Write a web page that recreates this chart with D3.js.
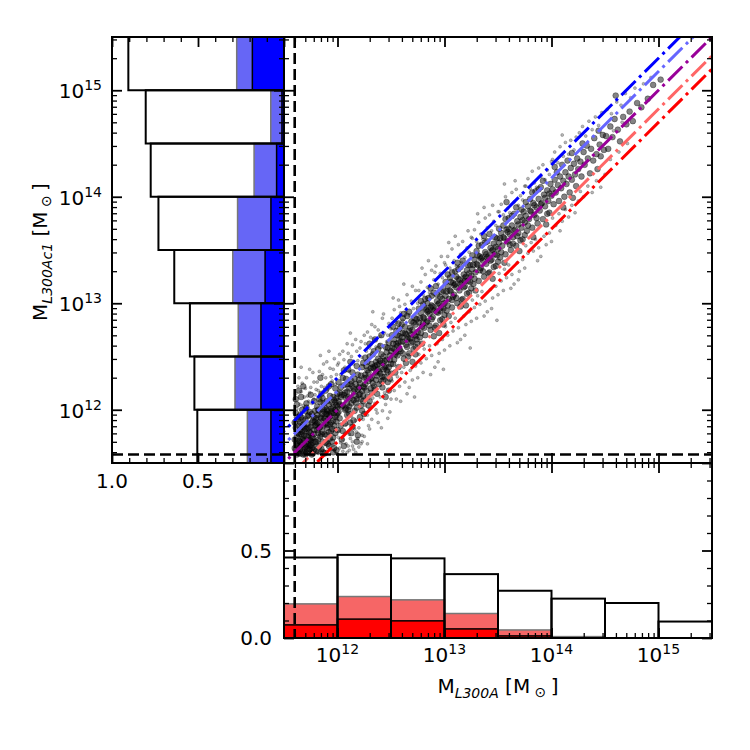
<!DOCTYPE html>
<html><head><meta charset="utf-8">
<script src="https://cdn.jsdelivr.net/npm/d3@7"></script>
<style>body{margin:0;background:#fff} text{font-family:"DejaVu Sans",sans-serif;fill:#000}</style>
</head><body><svg id="c" width="750" height="750"></svg>
<script>
// ---------------- DATA ----------------
const massBinEdgesLog = [11.5, 12, 12.5, 13, 13.5, 14, 14.5, 15, 15.5];
// bottom histogram (fractions per M_L300A bin)
const bottomTotal = [0.46, 0.475, 0.455, 0.365, 0.27, 0.225, 0.20, 0.094];
const bottomLight = [0.195, 0.237, 0.218, 0.14, 0.046, 0.008, 0, 0];
const bottomDark  = [0.075, 0.108, 0.098, 0.052, 0.012, 0, 0, 0];
// left histogram (fractions per M_L300Ac1 bin), low to high mass
const leftTotal = [0.504, 0.521, 0.547, 0.638, 0.73, 0.775, 0.804, 0.905];
const leftLight = [0.213, 0.285, 0.266, 0.298, 0.27, 0.174, 0.077, 0.275];
const leftDark  = [0.076, 0.134, 0.134, 0.11, 0.076, 0.043, 0.012, 0.184];
// reference lines: log10 offsets from 1:1 relation
const lineOffsets = [0.301, 0.176, 0, -0.176, -0.301];
const lineColors = ["#0000ff", "#6666ff", "#990099", "#ff6666", "#ff0000"];
// mass thresholds (log10)
const xThreshLog = 11.6;
const yThreshLog = 11.58;
// tick labels
const logTickExps = [12, 13, 14, 15];
const leftFracTicks = [1.0, 0.5];
const leftFracLabels = ["1.0", "0.5"];
const bottomFracTicks = [0.0, 0.5];
const bottomFracLabels = ["0.0", "0.5"];
// scatter points [log10 M_L300A, log10 M_L300Ac1] - core of the cloud
const scatterPoints = [
[11.61,11.62],[11.62,11.75],[11.60,11.88],[11.63,11.69],[11.61,11.97],[11.64,11.59],[11.62,12.05],[11.65,11.81],[11.63,11.66],[11.60,11.72],
[11.66,11.93],[11.64,11.77],[11.67,11.61],[11.65,11.70],[11.68,11.86],[11.66,12.12],[11.69,11.64],[11.67,11.79],[11.70,11.99],[11.68,11.73],
[11.71,11.60],[11.69,11.84],[11.72,11.68],[11.70,11.91],[11.73,11.76],[11.71,12.02],[11.74,11.63],[11.72,11.82],[11.75,11.71],[11.73,11.95],
[11.76,11.88],[11.74,11.66],[11.77,11.59],[11.75,11.78],[11.78,12.08],[11.76,11.74],[11.79,11.85],[11.77,11.69],[11.80,11.92],[11.78,11.62],
[11.61,11.83],[11.63,11.91],[11.62,11.58],[11.64,12.18],[11.66,11.67],[11.65,11.95],[11.67,11.72],[11.69,11.80],[11.68,11.58],[11.70,11.65],
[11.72,11.87],[11.71,11.75],[11.73,11.60],[11.74,11.98],[11.76,11.64],[11.75,11.84],[11.77,11.90],[11.79,11.70],[11.78,11.81],[11.80,11.61],
[11.62,11.68],[11.60,11.64],[11.64,11.85],[11.63,11.60],[11.66,11.77],[11.67,12.00],[11.69,11.71],[11.70,11.58],[11.72,11.94],[11.74,11.72],
[11.73,11.83],[11.76,11.96],[11.77,11.65],[11.79,11.89],[11.61,12.10],[11.65,11.63],[11.68,11.90],[11.71,11.66],[11.75,12.14],[11.78,11.77],
[11.63,11.78],[11.66,11.59],[11.70,11.82],[11.73,11.69],[11.76,11.58],[11.79,11.99],[11.62,11.93],[11.67,11.84],[11.71,12.06],[11.74,11.79],
[11.77,11.74],[11.80,11.86],[11.64,11.71],[11.69,11.76],[11.72,11.63],[11.75,11.67],[11.78,11.93],[11.68,12.22],[11.65,11.88],[11.80,11.70],
[11.81,11.95],[11.82,11.72],[11.83,12.10],[11.84,11.84],[11.85,11.63],[11.86,12.01],[11.87,11.90],[11.88,11.77],[11.89,12.18],[11.90,11.96],
[11.91,11.68],[11.92,12.05],[11.93,11.86],[11.94,12.24],[11.95,11.99],[11.96,11.74],[11.97,12.09],[11.98,11.93],[11.99,11.62],[12.00,12.03],
[11.81,11.81],[11.82,12.00],[11.83,11.66],[11.84,11.93],[11.85,12.15],[11.86,11.79],[11.87,11.60],[11.88,11.98],[11.89,11.87],[11.90,12.08],
[11.91,11.91],[11.92,11.79],[11.93,12.13],[11.94,11.97],[11.95,11.70],[11.96,12.02],[11.97,11.85],[11.98,12.20],[11.99,11.95],[12.00,11.81],
[11.81,11.87],[11.83,11.99],[11.85,11.77],[11.87,12.06],[11.89,11.69],[11.91,11.99],[11.93,11.94],[11.95,12.07],[11.97,11.64],[11.99,12.04],
[11.82,11.88],[11.84,12.07],[11.86,11.70],[11.88,11.92],[11.90,11.83],[11.92,11.95],[11.94,11.88],[11.96,12.12],[11.98,11.78],[12.00,11.97],
[11.81,12.03],[11.84,11.75],[11.87,11.85],[11.90,12.00],[11.93,11.73],[11.96,11.90],[11.99,12.11],[11.82,11.61],[11.85,11.92],[11.88,12.02],
[11.91,11.86],[11.94,12.01],[11.97,11.97],[12.00,12.15],[11.83,11.83],[11.86,11.96],[11.89,11.96],[11.92,11.66],[11.95,11.82],[11.98,12.00],
[11.84,12.30],[11.88,11.59],[11.92,12.22],[11.96,11.60],[11.99,11.89],[11.86,12.11],[11.90,11.76],[11.94,11.80],[11.98,12.07],[11.82,11.78],
[12.01,12.08],[12.02,11.92],[12.03,12.21],[12.04,12.03],[12.05,11.80],[12.06,12.14],[12.07,12.00],[12.08,12.29],[12.09,11.95],[12.10,12.12],
[12.11,12.20],[12.12,11.88],[12.13,12.06],[12.14,12.35],[12.15,12.17],[12.16,11.99],[12.17,12.24],[12.18,12.10],[12.19,11.76],[12.20,12.28],
[12.21,12.15],[12.22,12.04],[12.23,12.40],[12.24,12.22],[12.25,11.96],[12.01,11.98],[12.03,12.12],[12.05,12.30],[12.07,11.87],[12.09,12.17],
[12.11,12.03],[12.13,12.27],[12.15,11.90],[12.17,12.13],[12.19,12.33],[12.21,11.93],[12.23,12.18],[12.25,12.30],[12.02,12.05],[12.04,11.72],
[12.06,12.23],[12.08,12.01],[12.10,12.38],[12.12,12.11],[12.14,11.84],[12.16,12.19],[12.18,12.02],[12.20,12.14],[12.22,12.32],[12.24,12.08],
[12.02,12.16],[12.05,12.04],[12.08,12.11],[12.11,11.96],[12.14,12.22],[12.17,12.07],[12.20,12.21],[12.23,11.99],[12.03,11.85],[12.06,12.37],
[12.09,12.06],[12.12,12.24],[12.15,12.09],[12.18,12.41],[12.21,12.25],[12.24,12.13],[12.01,12.26],[12.07,12.16],[12.13,11.78],[12.19,12.19],
[12.25,12.21],[12.04,12.14],[12.10,12.00],[12.16,12.29],[12.22,12.10],[12.06,11.66],[12.12,12.45],[12.18,11.70],[12.24,12.44],[12.09,12.24],
[12.26,12.33],[12.27,12.18],[12.28,12.45],[12.29,12.27],[12.30,12.08],[12.31,12.39],[12.32,12.30],[12.33,12.52],[12.34,12.22],[12.35,12.41],
[12.36,12.35],[12.37,12.15],[12.38,12.48],[12.39,12.36],[12.40,12.60],[12.41,12.27],[12.42,12.44],[12.43,12.50],[12.44,12.31],[12.45,12.12],
[12.46,12.47],[12.47,12.58],[12.48,12.40],[12.49,12.29],[12.50,12.55],[12.26,12.24],[12.28,12.37],[12.30,12.50],[12.32,12.16],[12.34,12.39],
[12.36,12.28],[12.38,12.57],[12.40,12.34],[12.42,12.21],[12.44,12.46],[12.46,12.37],[12.48,12.63],[12.50,12.43],[12.27,12.41],[12.29,12.04],
[12.31,12.29],[12.33,12.40],[12.35,12.66],[12.37,12.32],[12.39,12.24],[12.41,12.52],[12.43,12.38],[12.45,12.41],[12.47,12.26],[12.49,12.51],
[12.27,12.30],[12.30,12.62],[12.33,12.25],[12.36,12.45],[12.39,12.43],[12.42,12.31],[12.45,12.59],[12.48,12.18],[12.26,12.49],[12.29,12.35],
[12.32,12.43],[12.35,12.19],[12.38,12.38],[12.41,12.70],[12.44,12.40],[12.47,12.35],[12.50,12.34],[12.28,12.12],[12.34,12.55],[12.40,12.46],
[12.46,12.54],[12.31,12.20],[12.37,12.42],[12.43,12.28],[12.49,12.47],
[12.51,12.58],[12.52,12.43],[12.53,12.66],[12.54,12.52],[12.55,12.74],[12.56,12.60],[12.57,12.40],[12.58,12.69],[12.59,12.55],[12.60,12.80],
[12.61,12.64],[12.62,12.48],[12.63,12.72],[12.64,12.61],[12.65,12.88],[12.66,12.68],[12.67,12.53],[12.68,12.77],[12.69,12.63],[12.70,12.45],
[12.71,12.82],[12.72,12.70],[12.73,12.59],[12.74,12.85],[12.75,12.73],[12.51,12.70],[12.53,12.47],[12.55,12.62],[12.57,12.81],[12.59,12.64],
[12.61,12.53],[12.63,12.78],[12.65,12.66],[12.67,12.92],[12.69,12.71],[12.71,12.57],[12.73,12.80],[12.75,12.62],[12.52,12.62],[12.54,12.35],
[12.56,12.70],[12.58,12.57],[12.60,12.68],[12.62,12.90],[12.64,12.71],[12.66,12.50],[12.68,12.67],[12.70,12.75],[12.72,12.86],[12.74,12.66],
[12.52,12.78],[12.55,12.54],[12.58,12.76],[12.61,12.72],[12.64,12.44],[12.67,12.74],[12.70,12.64],[12.73,12.52],[12.53,12.57],[12.57,12.63],
[12.61,12.86],[12.65,12.59],[12.69,12.83],[12.73,12.69],[12.56,12.51],
[12.76,12.82],[12.77,12.68],[12.78,12.91],[12.79,12.78],[12.80,12.99],[12.81,12.86],[12.82,12.70],[12.83,12.94],[12.84,12.83],[12.85,13.05],
[12.86,12.90],[12.87,12.75],[12.88,12.98],[12.89,12.87],[12.90,13.10],[12.91,12.94],[12.92,12.79],[12.93,13.02],[12.94,12.91],[12.95,12.72],
[12.96,13.06],[12.97,12.96],[12.98,12.85],[12.99,13.12],[13.00,13.00],[12.76,12.95],[12.78,12.72],[12.80,12.87],[12.82,13.04],[12.84,12.92],
[12.86,12.79],[12.88,13.07],[12.90,12.93],[12.92,13.16],[12.94,12.99],[12.96,12.84],[12.98,13.04],[13.00,12.89],[12.77,12.86],[12.79,12.62],
[12.81,12.96],[12.83,12.82],[12.85,12.93],[12.87,13.14],[12.89,12.97],[12.91,12.77],[12.93,12.92],[12.95,13.00],[12.97,13.11],[12.99,12.95],
[12.78,13.02],[12.81,12.77],[12.84,13.00],[12.87,12.96],[12.90,12.69],[12.93,13.08],[12.96,12.93],[12.99,12.80],[12.80,12.81],[12.88,12.85],
[13.01,13.07],[13.02,12.93],[13.03,13.16],[13.04,13.04],[13.05,13.24],[13.06,13.11],[13.07,12.96],[13.08,13.19],[13.09,13.08],[13.10,13.30],
[13.11,13.15],[13.12,13.00],[13.13,13.23],[13.14,13.12],[13.15,13.34],[13.16,13.19],[13.17,13.04],[13.18,13.27],[13.19,13.16],[13.20,12.98],
[13.21,13.31],[13.22,13.21],[13.23,13.10],[13.24,13.36],[13.25,13.26],[13.01,13.20],[13.03,12.98],[13.05,13.12],[13.07,13.29],[13.09,13.17],
[13.11,13.05],[13.13,13.32],[13.15,13.18],[13.17,13.40],[13.19,13.24],[13.21,13.09],[13.23,13.28],[13.25,13.14],[13.02,13.11],[13.04,12.88],
[13.06,13.20],[13.08,13.06],[13.10,13.18],[13.12,13.38],[13.14,13.22],[13.16,13.03],[13.18,13.15],[13.20,13.25],[13.22,13.36],[13.24,13.20],
[13.03,13.27],[13.07,13.03],[13.11,13.25],[13.15,12.97],[13.19,13.21],
[13.26,13.32],[13.27,13.18],[13.28,13.41],[13.29,13.29],[13.30,13.49],[13.31,13.36],[13.32,13.21],[13.33,13.44],[13.34,13.33],[13.35,13.55],
[13.36,13.40],[13.37,13.25],[13.38,13.48],[13.39,13.37],[13.40,13.58],[13.41,13.44],[13.42,13.29],[13.43,13.52],[13.44,13.41],[13.45,13.23],
[13.46,13.56],[13.47,13.46],[13.48,13.35],[13.49,13.61],[13.50,13.51],[13.26,13.45],[13.28,13.23],[13.30,13.37],[13.32,13.54],[13.34,13.42],
[13.36,13.30],[13.38,13.57],[13.40,13.43],[13.42,13.65],[13.44,13.49],[13.46,13.34],[13.48,13.53],[13.50,13.39],[13.27,13.36],[13.29,13.12],
[13.31,13.45],[13.33,13.31],[13.35,13.43],[13.37,13.63],[13.39,13.46],[13.41,13.28],[13.43,13.40],[13.45,13.50],[13.47,13.62],[13.49,13.45],
[13.51,13.57],[13.52,13.43],[13.53,13.66],[13.54,13.54],[13.55,13.73],[13.56,13.61],[13.57,13.46],[13.58,13.69],[13.59,13.58],[13.60,13.80],
[13.61,13.65],[13.62,13.50],[13.63,13.73],[13.64,13.62],[13.65,13.84],[13.66,13.69],[13.67,13.54],[13.68,13.77],[13.69,13.66],[13.70,13.49],
[13.71,13.81],[13.72,13.71],[13.73,13.60],[13.74,13.86],[13.75,13.76],[13.51,13.70],[13.53,13.48],[13.55,13.62],[13.57,13.79],[13.59,13.67],
[13.61,13.55],[13.63,13.82],[13.65,13.68],[13.67,13.90],[13.69,13.74],[13.71,13.59],[13.73,13.78],[13.75,13.64],[13.52,13.61],[13.56,13.38],
[13.60,13.70],[13.64,13.56],[13.68,13.63],[13.72,13.88],[13.58,13.95],
[13.76,13.82],[13.77,13.68],[13.78,13.91],[13.79,13.79],[13.80,13.98],[13.81,13.86],[13.82,13.71],[13.83,13.94],[13.84,13.83],[13.85,14.05],
[13.86,13.90],[13.87,13.75],[13.88,13.98],[13.89,13.87],[13.90,14.09],[13.91,13.94],[13.92,13.79],[13.93,14.02],[13.94,13.91],[13.95,13.74],
[13.96,14.06],[13.97,13.96],[13.98,13.85],[13.99,14.12],[14.00,14.01],[13.76,13.95],[13.78,13.73],[13.80,13.87],[13.82,14.04],[13.84,13.92],
[13.86,13.80],[13.88,14.07],[13.90,13.93],[13.92,14.15],[13.94,13.99],[13.96,13.84],[13.98,14.03],[13.83,13.62],
[14.01,14.07],[14.02,13.93],[14.03,14.16],[14.04,14.04],[14.05,14.23],[14.06,14.11],[14.07,13.96],[14.08,14.19],[14.09,14.08],[14.10,14.30],
[14.11,14.15],[14.12,14.00],[14.13,14.23],[14.14,14.12],[14.15,14.34],[14.16,14.19],[14.17,14.04],[14.18,14.27],[14.19,14.16],[14.20,13.99],
[14.21,14.31],[14.22,14.21],[14.23,14.10],[14.24,14.36],[14.25,14.26],[14.03,14.28],[14.11,13.90],[14.19,14.41],
[14.27,14.33],[14.28,14.19],[14.30,14.42],[14.31,14.30],[14.33,14.48],[14.34,14.36],[14.36,14.22],[14.37,14.45],[14.39,14.34],[14.40,14.55],
[14.42,14.40],[14.43,14.26],[14.45,14.49],[14.46,14.38],[14.48,14.58],[14.49,14.44],[14.29,14.50],[14.44,14.62],
[14.51,14.57],[14.53,14.45],[14.55,14.66],[14.57,14.56],[14.59,14.73],[14.62,14.63],[14.64,14.52],[14.67,14.75],[14.70,14.68],[14.73,14.80],
[14.76,14.71],[14.80,14.88],[14.84,14.84],[14.60,14.95],[14.90,14.92],[14.95,15.05],[15.02,15.10]
];
// scatter points [log10 M_L300A, log10 M_L300Ac1] - outer parts of the cloud
const scatterPointsOuter = [
[11.61,12.15],[11.63,12.22],[11.65,12.05],[11.67,12.25],[11.69,12.12],[11.71,12.30],[11.73,12.08],[11.75,12.21],[11.77,12.35],[11.79,12.14],
[11.62,12.01],[11.64,12.30],[11.66,12.17],[11.68,12.04],[11.70,12.20],[11.72,12.13],[11.74,12.38],[11.76,12.06],[11.78,12.26],[11.80,12.19],
[11.60,12.09],[11.66,12.40],[11.70,12.02],[11.74,12.16],[11.78,12.10],
[11.61,11.60],[11.63,11.64],[11.66,11.62],[11.68,11.66],[11.71,11.59],[11.73,11.65],[11.76,11.61],[11.79,11.66],[11.82,11.59],[11.84,11.64],
[11.87,11.67],[11.90,11.61],[11.93,11.63],[11.96,11.67],[11.99,11.59],[12.02,11.64],[12.05,11.61],[12.08,11.68],[12.11,11.62],[12.14,11.66],
[12.17,11.60],[12.20,11.65],[12.23,11.70],[11.64,11.66],[11.70,11.62],[11.75,11.60],[11.81,11.68],[11.86,11.62],[11.91,11.70],[11.97,11.62],
[12.03,11.69],[12.09,11.60],[12.15,11.63],[12.01,11.74],[12.07,11.78],[12.12,11.73],[12.18,11.79],[12.25,11.75],[12.30,11.82],[12.28,11.68],
[11.81,12.26],[11.83,12.36],[11.85,12.22],[11.87,12.43],[11.89,12.30],[11.91,12.19],[11.93,12.39],[11.95,12.27],[11.97,12.48],[11.99,12.33],
[11.82,12.18],[11.86,12.33],[11.90,12.45],[11.94,12.31],[11.98,12.24],[11.84,12.51],[11.92,12.55],[11.96,12.38],[11.88,12.21],[12.00,12.42],
[12.01,12.44],[12.03,12.33],[12.05,12.55],[12.07,12.40],[12.09,12.62],[12.11,12.36],[12.13,12.50],[12.15,12.43],[12.17,12.66],[12.19,12.46],
[12.21,12.58],[12.23,12.49],[12.25,12.70],[12.02,12.52],[12.06,12.47],[12.10,12.53],[12.14,12.61],[12.18,12.55],[12.22,12.64],[12.12,12.72],
[12.02,11.80],[12.05,11.72],[12.08,11.86],[12.11,11.77],[12.14,11.70],[12.17,11.90],[12.20,11.83],[12.23,11.76],[12.06,11.89],[12.13,11.94],
[12.19,11.73],[12.24,11.91],[12.16,11.82],[12.10,11.66],[12.22,11.68],
[12.26,12.62],[12.28,12.73],[12.30,12.58],[12.32,12.80],[12.34,12.66],[12.36,12.59],[12.38,12.75],[12.40,12.69],[12.42,12.86],[12.44,12.72],
[12.46,12.64],[12.48,12.81],[12.50,12.76],[12.27,12.55],[12.31,12.68],[12.35,12.78],[12.39,12.61],[12.43,12.90],[12.47,12.70],[12.33,12.92],
[12.26,12.04],[12.28,11.95],[12.30,12.01],[12.32,11.91],[12.35,12.06],[12.37,11.97],[12.40,12.12],[12.42,11.99],[12.45,12.05],[12.47,11.92],
[12.50,12.10],[12.29,11.85],[12.38,11.88],[12.44,12.16],[12.49,11.98],[12.33,12.11],[12.41,11.83],[12.36,12.00],
[12.51,12.86],[12.53,12.94],[12.55,12.82],[12.57,13.03],[12.59,12.91],[12.61,12.84],[12.63,12.99],[12.65,13.08],[12.67,12.89],[12.69,13.02],
[12.71,12.95],[12.73,13.12],[12.75,13.00],[12.52,13.05],[12.58,12.97],[12.64,12.92],[12.70,13.16],[12.74,12.90],[12.62,13.18],
[12.51,12.27],[12.53,12.18],[12.56,12.31],[12.58,12.22],[12.60,12.35],[12.63,12.26],[12.65,12.15],[12.68,12.37],[12.70,12.28],[12.73,12.41],
[12.75,12.30],[12.55,12.10],[12.62,12.40],[12.67,12.21],[12.72,12.12],[12.59,12.08],
[12.76,13.12],[12.78,13.20],[12.80,13.08],[12.82,13.27],[12.84,13.15],[12.86,13.10],[12.88,13.31],[12.90,13.22],[12.92,13.35],[12.94,13.18],
[12.96,13.28],[12.98,13.24],[13.00,13.38],[12.79,13.33],[12.85,13.40],[12.91,13.29],[12.97,13.44],[12.83,13.05],
[12.76,12.52],[12.78,12.44],[12.81,12.57],[12.83,12.48],[12.86,12.60],[12.88,12.51],[12.91,12.40],[12.93,12.62],[12.95,12.53],[12.98,12.66],
[13.00,12.56],[12.80,12.35],[12.87,12.33],[12.94,12.45],[12.99,12.38],
[13.01,13.36],[13.03,13.44],[13.05,13.33],[13.07,13.51],[13.09,13.40],[13.11,13.35],[13.13,13.55],[13.15,13.46],[13.17,13.58],[13.19,13.43],
[13.21,13.52],[13.23,13.48],[13.25,13.62],[13.04,13.57],[13.10,13.63],[13.16,13.38],[13.22,13.68],
[13.01,12.78],[13.03,12.70],[13.06,12.82],[13.08,12.74],[13.10,12.86],[13.13,12.77],[13.15,12.66],[13.18,12.88],[13.20,12.80],[13.23,12.92],
[13.25,12.83],[13.05,12.60],[13.12,12.63],[13.19,12.70],[13.24,12.58],
[13.26,13.61],[13.28,13.69],[13.30,13.58],[13.32,13.76],[13.34,13.65],[13.36,13.60],[13.38,13.80],[13.40,13.71],[13.42,13.83],[13.44,13.68],
[13.46,13.77],[13.48,13.73],[13.50,13.86],[13.31,13.84],[13.37,13.90],[13.45,13.92],
[13.26,13.03],[13.28,12.96],[13.31,13.07],[13.33,12.99],[13.35,13.11],[13.38,13.02],[13.40,12.92],[13.43,13.13],[13.45,13.05],[13.48,13.16],
[13.50,13.08],[13.30,12.86],[13.37,12.88],[13.44,12.95],[13.49,12.84],
[13.51,13.86],[13.53,13.93],[13.55,13.83],[13.57,14.00],[13.59,13.89],[13.61,13.85],[13.63,14.04],[13.65,13.95],[13.67,14.07],[13.69,13.92],
[13.71,14.01],[13.73,13.97],[13.75,14.10],[13.56,14.12],[13.66,14.15],
[13.51,13.28],[13.53,13.21],[13.56,13.32],[13.58,13.24],[13.60,13.36],[13.63,13.27],[13.65,13.18],[13.68,13.38],[13.70,13.30],[13.73,13.41],
[13.75,13.33],[13.55,13.12],[13.62,13.14],[13.69,13.22],
[13.76,14.10],[13.78,14.17],[13.80,14.08],[13.82,14.24],[13.84,14.13],[13.86,14.09],[13.88,14.27],[13.90,14.19],[13.92,14.30],[13.94,14.16],
[13.96,14.25],[13.98,14.21],[14.00,14.33],
[13.76,13.54],[13.78,13.47],[13.81,13.57],[13.83,13.49],[13.85,13.60],[13.88,13.52],[13.90,13.44],[13.93,13.63],[13.95,13.55],[13.98,13.66],
[14.00,13.58],[13.87,13.40],
[14.01,14.35],[14.03,14.42],[14.06,14.32],[14.08,14.47],[14.11,14.38],[14.13,14.51],[14.16,14.40],[14.18,14.53],[14.21,14.44],[14.23,14.56],
[14.10,14.58],
[14.01,13.80],[14.04,13.73],[14.07,13.84],[14.10,13.77],[14.13,13.88],[14.16,13.81],[14.19,13.92],[14.22,13.85],[14.25,13.96],[14.08,13.68],
[14.26,14.60],[14.29,14.66],[14.32,14.57],[14.35,14.71],[14.38,14.63],[14.41,14.75],[14.44,14.67],[14.47,14.79],
[14.27,14.05],[14.30,14.00],[14.34,14.10],[14.38,14.04],[14.42,14.15],[14.46,14.09],[14.50,14.21],
[14.52,14.82],[14.56,14.78],[14.61,14.89],[14.65,14.86],[14.69,14.97],[14.74,14.93],[14.78,15.02],[14.55,14.35],[14.63,14.42],[14.71,14.50],
[14.58,14.62],[14.66,14.70],[14.86,15.06],[14.93,15.12]
];

// ---------------- LAYOUT ----------------
const L = {left: 112, mainL: 284, right: 712, top: 37, mainB: 463, bottom: 638};
const svg = d3.select("#c");
const lo = 10 ** massBinEdgesLog[0], hi = 10 ** massBinEdgesLog[massBinEdgesLog.length - 1];
const xM = d3.scaleLog().domain([lo, hi]).range([L.mainL, L.right]);
const yM = d3.scaleLog().domain([lo, hi]).range([L.mainB, L.top]);
const xF = d3.scaleLinear().domain([1, 0]).range([L.left, L.mainL]);
const yF = d3.scaleLinear().domain([0, 1]).range([L.bottom, L.mainB]);

const defs = svg.append("defs");
defs.append("clipPath").attr("id", "clipMain").append("rect")
  .attr("x", L.mainL).attr("y", L.top).attr("width", L.right - L.mainL).attr("height", L.mainB - L.top);

// ---------- bottom histogram ----------
const bins = d3.range(bottomTotal.length).map(i => ({a: 10 ** massBinEdgesLog[i], b: 10 ** massBinEdgesLog[i + 1], i}));
const gB = svg.append("g");
function vbars(vals, fill, stroke, sw) {
  gB.selectAll(null).data(bins.filter(d => vals[d.i] > 0)).join("rect")
    .attr("x", d => xM(d.a)).attr("width", d => xM(d.b) - xM(d.a))
    .attr("y", d => yF(vals[d.i])).attr("height", d => yF(0) - yF(vals[d.i]))
    .attr("fill", fill).attr("stroke", stroke).attr("stroke-width", sw);
}
vbars(bottomLight, "#f66666", "#777", 1.5);
vbars(bottomDark, "#ff0000", "#000", 1.5);
vbars(bottomTotal, "none", "#000", 2);

// ---------- left histogram ----------
const gLh = svg.append("g");
function hbars(vals, fill, stroke, sw) {
  gLh.selectAll(null).data(bins.filter(d => vals[d.i] > 0)).join("rect")
    .attr("y", d => yM(d.b)).attr("height", d => yM(d.a) - yM(d.b))
    .attr("x", d => xF(vals[d.i])).attr("width", d => xF(0) - xF(vals[d.i]))
    .attr("fill", fill).attr("stroke", stroke).attr("stroke-width", sw);
}
hbars(leftLight, "#6666f6", "#777", 1.5);
hbars(leftDark, "#0000ff", "#000", 1.5);
hbars(leftTotal, "none", "#000", 2);

// ---------- scatter ----------
const gS = svg.append("g").attr("clip-path", "url(#clipMain)");
gS.selectAll("circle.o").data(scatterPointsOuter).join("circle").attr("class", "o")
  .attr("cx", d => xM(10 ** d[0])).attr("cy", d => yM(10 ** d[1])).attr("r", 1.5)
  .attr("fill", "#333").attr("fill-opacity", 0.35)
  .attr("stroke", "#000").attr("stroke-opacity", 0.45).attr("stroke-width", 0.5);
gS.selectAll("circle.c").data(scatterPoints).join("circle").attr("class", "c")
  .attr("cx", d => xM(10 ** d[0])).attr("cy", d => yM(10 ** d[1])).attr("r", 2.9)
  .attr("fill", "#0a0a0a").attr("fill-opacity", 0.5)
  .attr("stroke", "#000").attr("stroke-opacity", 0.55).attr("stroke-width", 0.6);

// ---------- reference lines ----------
const lineGen = d3.line().x(d => xM(10 ** d[0])).y(d => yM(10 ** d[1]));
lineOffsets.forEach((off, k) => {
  const pts = [[massBinEdgesLog[0] - 1, massBinEdgesLog[0] - 1 + off], [massBinEdgesLog[8] + 1, massBinEdgesLog[8] + 1 + off]];
  gS.append("path").attr("d", lineGen(pts)).attr("fill", "none")
    .attr("stroke", lineColors[k]).attr("stroke-width", 3).attr("stroke-dasharray", "20,5,3,5");
});

// ---------- thresholds ----------
svg.append("line").attr("x1", xM(10 ** xThreshLog)).attr("x2", xM(10 ** xThreshLog))
  .attr("y1", L.top).attr("y2", L.bottom)
  .attr("stroke", "#000").attr("stroke-width", 2.6).attr("stroke-dasharray", "11,5");
svg.append("line").attr("y1", yM(10 ** yThreshLog)).attr("y2", yM(10 ** yThreshLog))
  .attr("x1", L.left).attr("x2", L.right)
  .attr("stroke", "#000").attr("stroke-width", 2.6).attr("stroke-dasharray", "11,5");

// ---------- ticks ----------
const logMajor = logTickExps.map(e => 10 ** e);
const logMinor = [];
for (let e = 11; e <= 15; e++) for (let m = 2; m <= 9; m++) { const v = m * 10 ** e; if (v > lo && v < hi) logMinor.push(v); }
const fracMajor = [0, 0.5, 1];
const fracMinor = d3.range(1, 10).filter(i => i !== 5).map(i => i / 10);

function ticks(axisFn, scale, tx, ty, values, len, w) {
  const g = svg.append("g").attr("transform", `translate(${tx},${ty})`)
    .call(axisFn(scale).tickValues(values).tickSize(-len).tickFormat(""));
  g.select(".domain").remove();
  g.selectAll(".tick line").attr("stroke", "#000").attr("stroke-width", w);
}
function tickSet(axisFn, scale, tx, ty, major, minor) {
  ticks(axisFn, scale, tx, ty, minor, 5, 1.3);
  ticks(axisFn, scale, tx, ty, major, 10, 1.8);
}
// main panel
tickSet(d3.axisBottom, xM, 0, L.mainB, logMajor, logMinor);
tickSet(d3.axisTop, xM, 0, L.top, logMajor, logMinor);
tickSet(d3.axisLeft, yM, L.mainL, 0, logMajor, logMinor);
tickSet(d3.axisRight, yM, L.right, 0, logMajor, logMinor);
// left panel
tickSet(d3.axisLeft, yM, L.left, 0, logMajor, logMinor);
tickSet(d3.axisRight, yM, L.mainL, 0, logMajor, logMinor);
tickSet(d3.axisBottom, xF, 0, L.mainB, fracMajor, fracMinor);
tickSet(d3.axisTop, xF, 0, L.top, fracMajor, fracMinor);
// bottom panel
tickSet(d3.axisBottom, xM, 0, L.bottom, logMajor, logMinor);
tickSet(d3.axisTop, xM, 0, L.mainB, logMajor, logMinor);
tickSet(d3.axisLeft, yF, L.mainL, 0, fracMajor, fracMinor);
tickSet(d3.axisRight, yF, L.right, 0, fracMajor, fracMinor);

// ---------- frames ----------
[[L.mainL, L.top, L.right, L.mainB], [L.left, L.top, L.mainL, L.mainB], [L.mainL, L.mainB, L.right, L.bottom]]
  .forEach(([x0, y0, x1, y1]) => svg.append("rect").attr("x", x0).attr("y", y0)
    .attr("width", x1 - x0).attr("height", y1 - y0).attr("fill", "none").attr("stroke", "#000").attr("stroke-width", 2));

// ---------- tick labels ----------
function powLabel(x, y, exp, anchor) {
  const t = svg.append("text").attr("x", x).attr("y", y).attr("text-anchor", anchor).attr("font-size", 20);
  t.append("tspan").text("10");
  t.append("tspan").attr("dy", -8).attr("font-size", 14).text(exp);
}
logTickExps.forEach(e => {
  powLabel(L.left - 10, yM(10 ** e) + 8, e, "end");
  powLabel(xM(10 ** e), L.bottom + 24, e, "middle");
});
leftFracTicks.forEach((v, i) => svg.append("text").attr("x", xF(v)).attr("y", L.mainB + 25)
  .attr("text-anchor", "middle").attr("font-size", 20).text(leftFracLabels[i]));
bottomFracTicks.forEach((v, i) => svg.append("text").attr("x", L.mainL - 12).attr("y", yF(v) + 7)
  .attr("text-anchor", "end").attr("font-size", 20).text(bottomFracLabels[i]));

// ---------- axis labels ----------
function massLabel(sel, sub) {
  sel.append("tspan").text("M");
  sel.append("tspan").attr("font-size", 14).attr("font-style", "italic").attr("dy", 5).text(sub);
  sel.append("tspan").attr("dy", -5).text(" [M");
  sel.append("tspan").attr("font-size", 14).attr("dy", 4).text(" \u2299 ");
  sel.append("tspan").attr("dy", -4).text("]");
}
massLabel(svg.append("text").attr("x", (L.mainL + L.right) / 2).attr("y", 693)
  .attr("text-anchor", "middle").attr("font-size", 20), "L300A");
massLabel(svg.append("text").attr("transform", `translate(47,${(L.top + L.mainB) / 2 + 2}) rotate(-90)`)
  .attr("text-anchor", "middle").attr("font-size", 20), "L300Ac1");
</script></body></html>
